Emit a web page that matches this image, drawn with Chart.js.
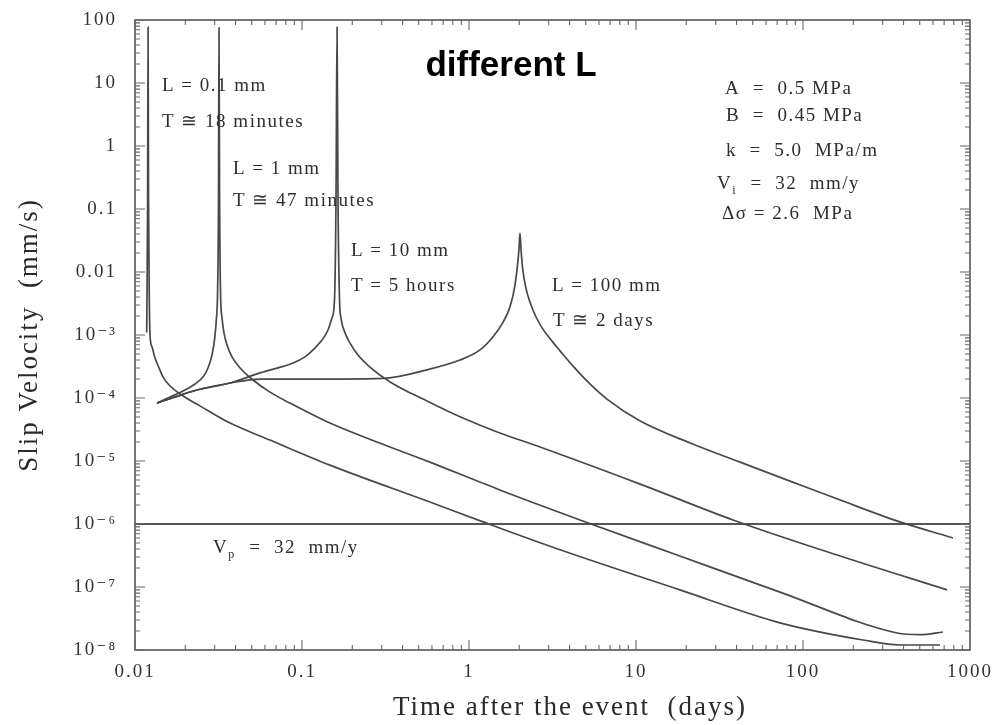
<!DOCTYPE html>
<html>
<head>
<meta charset="utf-8">
<script src="https://cdn.jsdelivr.net/npm/chart.js@4"></script>
<style>
  html, body { margin: 0; padding: 0; background: #fff; }
  canvas { display: block; }
</style>
</head>
<body>
<canvas id="slipchart" width="992" height="725"></canvas>
<script>
// axis ticks
var xTickValues = [0.01, 0.1, 1, 10, 100, 1000];
var xTickLabels = ["0.01", "0.1", "1", "10", "100", "1000"];
var yTickValues = [1e-8, 1e-7, 1e-6, 1e-5, 1e-4, 1e-3, 0.01, 0.1, 1, 10, 100];
var yTickLabels = ["10⁻⁸", "10⁻⁷", "10⁻⁶", "10⁻⁵", "10⁻⁴", "10⁻³", "0.01", "0.1", "1", "10", "100"];

// L = 0.1 mm  (time in days, slip velocity in mm/s)
var timeL01 = [0.01175, 0.01190, 0.01197, 0.01205, 0.01218, 0.0123, 0.01264, 0.01318, 0.01393, 0.01473, 0.01621, 0.0186, 0.02449, 0.0371, 0.0643, 0.147, 0.583, 1.213, 3.51, 18.3, 72.8, 229, 381, 661];
var velL01  = [1.1e-3, 0.14, 77, 0.14, 3.6e-3, 1.0e-3, 6.5e-4, 4.3e-4, 3.0e-4, 2.15e-4, 1.55e-4, 1.16e-4, 7.5e-5, 4.0e-5, 2.15e-5, 8.6e-6, 2.23e-6, 1.08e-6, 3.9e-7, 9.0e-8, 2.7e-8, 1.44e-8, 1.2e-8, 1.2e-8];

// L = 1 mm
var timeL1 = [0.01354, 0.01621, 0.01938, 0.02286, 0.02553, 0.02735, 0.0289, 0.02992, 0.03068, 0.03124, 0.03162, 0.03184, 0.0321, 0.0325, 0.0332, 0.0341, 0.0356, 0.0381, 0.0426, 0.0509, 0.0643, 0.0847, 0.147, 0.583, 1.53, 4.62, 18.3, 72.8, 366, 502, 689];
var velL1  = [8.3e-5, 1.04e-4, 1.29e-4, 1.67e-4, 2.15e-4, 3.0e-4, 4.8e-4, 8.3e-4, 1.73e-3, 5.2e-3, 0.139, 75, 0.139, 5.2e-3, 1.86e-3, 1.08e-3, 6.9e-4, 4.5e-4, 3.0e-4, 1.93e-4, 1.24e-4, 8.3e-5, 4.0e-5, 9.6e-6, 3.47e-6, 1.16e-6, 3.1e-7, 8.3e-8, 1.86e-8, 1.75e-8, 1.93e-8];

// L = 10 mm
var timeL10 = [0.01354, 0.01736, 0.0235, 0.0371, 0.0560, 0.0883, 0.1043, 0.1164, 0.1318, 0.1431, 0.1512, 0.1565, 0.1598, 0.1621, 0.1643, 0.1678, 0.1712, 0.181, 0.1936, 0.2163, 0.255, 0.337, 0.560, 0.92, 1.53, 2.66, 10.6, 38.1, 167, 728];
var velL10  = [8.3e-5, 1.04e-4, 1.34e-4, 1.73e-4, 2.5e-4, 3.6e-4, 4.5e-4, 5.8e-4, 8.3e-4, 1.2e-3, 1.86e-3, 3.6e-3, 0.139, 77, 0.139, 3.6e-3, 1.86e-3, 1.08e-3, 7.5e-4, 4.8e-4, 3.1e-4, 1.8e-4, 8.96e-5, 4.8e-5, 2.78e-5, 1.67e-5, 4.3e-6, 1.16e-6, 3.1e-7, 9.0e-8];

// L = 100 mm
var timeL100 = [0.01354, 0.01736, 0.0235, 0.0371, 0.0560, 0.128, 0.305, 0.560, 0.883, 1.164, 1.39, 1.6, 1.76, 1.885, 1.99, 2.02, 2.05, 2.10, 2.19, 2.32, 2.52, 2.77, 3.14, 3.51, 4.2, 5.3, 6.7, 10.6, 21.1, 42, 83.6, 167, 381, 791];
var velL100  = [8.3e-5, 1.04e-4, 1.34e-4, 1.73e-4, 2.0e-4, 2.0e-4, 2.05e-4, 2.8e-4, 4.0e-4, 5.8e-4, 9.3e-4, 1.6e-3, 2.8e-3, 6.2e-3, 0.0223, 0.0416, 0.0223, 0.0108, 5.6e-3, 3.3e-3, 1.93e-3, 1.24e-3, 8.0e-4, 5.6e-4, 3.2e-4, 1.67e-4, 9.6e-5, 4.3e-5, 1.93e-5, 9.6e-6, 4.8e-6, 2.4e-6, 1.08e-6, 6.0e-7];

// plate velocity Vp = 32 mm/y
var timeVp = [0.01, 1000];
var velVp  = [1e-6, 1e-6];

var serif = "'Liberation Serif', 'Times New Roman', 'DejaVu Serif', serif";

function toPoints(ts, vs) {
  return ts.map(function(t, i) { return { x: t, y: vs[i] }; });
}

function curve(label, ts, vs) {
  return {
    label: label,
    data: toPoints(ts, vs),
    borderColor: "#484848",
    borderWidth: 1.7,
    pointRadius: 0,
    fill: false,
    cubicInterpolationMode: "monotone"
  };
}

// write a line of text, parts with sub:true are drawn as subscripts
function drawParts(ctx, x, y, size, parts) {
  parts.forEach(function(p) {
    var s = p.sub ? Math.round(size * 0.62) : size;
    ctx.font = s + "px " + serif;
    ctx.fillText(p.t, x, p.sub ? y + 5 : y);
    x += ctx.measureText(p.t).width + (p.sub ? 1 : 0);
  });
}

var notes = {
  id: "notes",
  afterDraw: function(chart) {
    var ctx = chart.ctx;
    ctx.save();
    ctx.fillStyle = "#2e2e2e";
    ctx.textBaseline = "alphabetic";
    ctx.textAlign = "left";
    ctx.letterSpacing = "1.5px";

    var size = 19;
    drawParts(ctx, 162, 91, size, [{ t: "L = 0.1 mm" }]);
    drawParts(ctx, 162, 127, size, [{ t: "T ≅ 18 minutes" }]);
    drawParts(ctx, 233, 174, size, [{ t: "L = 1 mm" }]);
    drawParts(ctx, 233, 206, size, [{ t: "T ≅ 47 minutes" }]);
    drawParts(ctx, 351, 256, size, [{ t: "L = 10 mm" }]);
    drawParts(ctx, 351, 291, size, [{ t: "T = 5 hours" }]);
    drawParts(ctx, 552, 291, size, [{ t: "L = 100 mm" }]);
    drawParts(ctx, 553, 326, size, [{ t: "T ≅ 2 days" }]);

    drawParts(ctx, 725, 94, size, [{ t: "A  =  0.5 MPa" }]);
    drawParts(ctx, 726, 121, size, [{ t: "B  =  0.45 MPa" }]);
    drawParts(ctx, 726, 156, size, [{ t: "k  =  5.0  MPa/m" }]);
    drawParts(ctx, 717, 189, size, [{ t: "V" }, { t: "i", sub: true }, { t: "  =  32  mm/y" }]);
    drawParts(ctx, 722, 219, size, [{ t: "Δσ = 2.6  MPa" }]);

    drawParts(ctx, 213, 553, size, [{ t: "V" }, { t: "p", sub: true }, { t: "  =  32  mm/y" }]);

    // heading
    ctx.letterSpacing = "0px";
    ctx.fillStyle = "#000";
    ctx.textAlign = "center";
    ctx.font = "bold 35px 'Liberation Sans', Arial, sans-serif";
    ctx.fillText("different L", 511, 76);
    ctx.restore();
  }
};

// box round the plot with inward ticks on all four sides
var frameTicks = {
  id: "frameTicks",
  beforeDraw: function(chart) {
    chart.ctx.letterSpacing = "2px";
  },
  afterDatasetsDraw: function(chart) {
    var ctx = chart.ctx, a = chart.chartArea;
    var xs = chart.scales.x, ys = chart.scales.y;
    ctx.save();
    ctx.strokeStyle = "#555";
    ctx.lineWidth = 1.6;
    ctx.strokeRect(a.left, a.top, a.right - a.left, a.bottom - a.top);

    ctx.lineWidth = 1.1;
    ctx.strokeStyle = "#666";
    ctx.beginPath();
    var e, m, p, len;
    for (e = -2; e < 3; e++) {
      for (m = 1; m < 10; m++) {
        p = xs.getPixelForValue(m * Math.pow(10, e));
        len = m === 1 ? 10 : 5;
        ctx.moveTo(p, a.bottom); ctx.lineTo(p, a.bottom - len);
        ctx.moveTo(p, a.top); ctx.lineTo(p, a.top + len);
      }
    }
    for (e = -8; e < 2; e++) {
      for (m = 1; m < 10; m++) {
        p = ys.getPixelForValue(m * Math.pow(10, e));
        len = m === 1 ? 10 : 5;
        ctx.moveTo(a.left, p); ctx.lineTo(a.left + len, p);
        ctx.moveTo(a.right, p); ctx.lineTo(a.right - len, p);
      }
    }
    ctx.stroke();
    ctx.restore();
  }
};

var ctx = document.getElementById("slipchart").getContext("2d");
var slipChart = new Chart(ctx, {
  type: "line",
  data: {
    datasets: [
      curve("L = 0.1 mm", timeL01, velL01),
      curve("L = 1 mm", timeL1, velL1),
      curve("L = 10 mm", timeL10, velL10),
      curve("L = 100 mm", timeL100, velL100),
      {
        label: "Vp",
        data: toPoints(timeVp, velVp),
        borderColor: "#555",
        borderWidth: 1.8,
        pointRadius: 0
      }
    ]
  },
  options: {
    responsive: false,
    animation: false,
    layout: { padding: { top: 20, right: 22, left: 0, bottom: 0 } },
    plugins: {
      legend: { display: false },
      tooltip: { enabled: false }
    },
    scales: {
      x: {
        type: "logarithmic",
        min: 0.01,
        max: 1000,
        afterBuildTicks: function(s) {
          s.ticks = xTickValues.map(function(v) { return { value: v }; });
        },
        afterFit: function(s) {
          s.height = 75;
          s.paddingLeft = 0;
          s.paddingRight = 0;
        },
        grid: { display: false, drawTicks: false },
        border: { display: false },
        ticks: {
          padding: 11,
          color: "#333",
          maxRotation: 0,
          autoSkip: false,
          font: { family: serif, size: 19 },
          callback: function(v, i) { return xTickLabels[i]; }
        },
        title: {
          display: true,
          text: "    Time after the event  (days)",
          color: "#2a2a2a",
          font: { family: serif, size: 27 },
          padding: { top: 0, bottom: 1 }
        }
      },
      y: {
        type: "logarithmic",
        min: 1e-8,
        max: 100,
        afterBuildTicks: function(s) {
          s.ticks = yTickValues.map(function(v) { return { value: v }; });
        },
        afterFit: function(s) {
          s.width = 135;
          s.paddingTop = 0;
          s.paddingBottom = 0;
        },
        grid: { display: false, drawTicks: false },
        border: { display: false },
        ticks: {
          padding: 18,
          color: "#333",
          autoSkip: false,
          font: { family: serif, size: 19 },
          callback: function(v, i) { return yTickLabels[i]; }
        },
        title: {
          display: true,
          text: "Slip Velocity  (mm/s)",
          color: "#2a2a2a",
          font: { family: serif, size: 27 },
          padding: { top: 14, bottom: 0 }
        }
      }
    }
  },
  plugins: [frameTicks, notes]
});
</script>
</body>
</html>
